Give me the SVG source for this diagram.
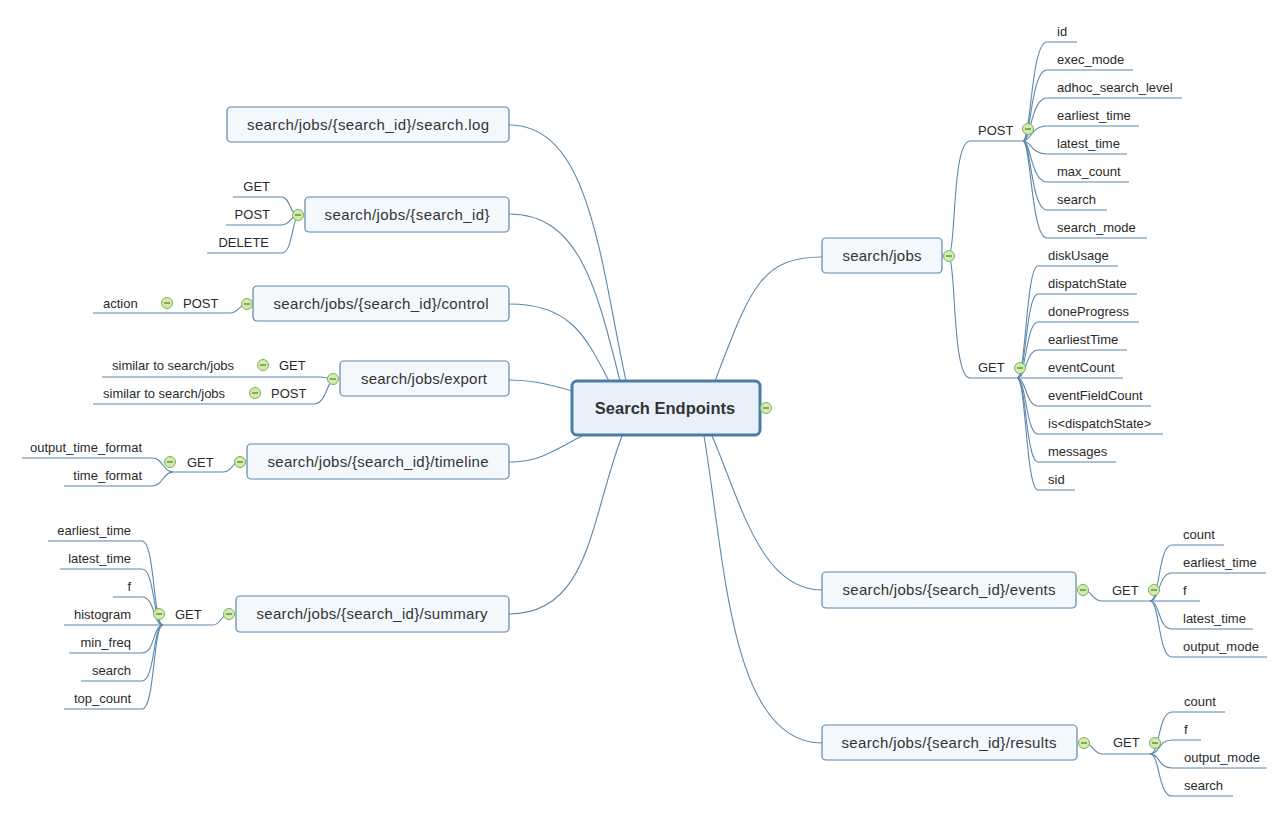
<svg xmlns="http://www.w3.org/2000/svg" width="1288" height="817" viewBox="0 0 1288 817">
<style>
.bg{fill:#fff}
.conn path{fill:none;stroke:#5b88ad;stroke-width:1.1}
.node rect{fill:#f3f8fd;stroke:#5b88ad;stroke-width:1.2}
.center rect{fill:#e8f1fb;stroke:#4a7ca5;stroke-width:3}
text{font-family:"Liberation Sans",Arial,sans-serif;fill:#2a2a2a}
.nt{font-size:15px;text-anchor:middle;fill:#333}
.ct{font-size:16.5px;font-weight:bold;text-anchor:middle;fill:#333}
.lf{font-size:13px}
.le{font-size:13px;text-anchor:end}
.tg circle{fill:#d3ebb3;stroke:#7cb34f;stroke-width:1}
.tg line{stroke:#4d7b2c;stroke-width:1.2}
</style>
<defs>
<g id="tog" class="tg"><circle r="5.5"/><line x1="-3" y1="0" x2="3" y2="0"/></g>
</defs>
<rect class="bg" width="1288" height="817"/>
<g id="connectors" class="conn">
<path d="M626,381 C600,260 590,125 509,125"/>
<path d="M620,381 C597,290 580,214 509,214"/>
<path d="M609,381 C585,335 570,304 509,304"/>
<path d="M572,391 C545,383 530,380 509,380"/>
<path d="M582,436 C555,450 540,462 509,462"/>
<path d="M622,436 C590,520 590,614 509,614"/>
<path d="M715,381 C750,290 760,257 822,257"/>
<path d="M712,436 C740,500 760,590 822,590"/>
<path d="M704,436 C725,560 730,743 822,743"/>
<path d="M949,256 C956,250 952,141 970,141 H1023"/>
<path d="M949,256 C956,262 952,378 970,378 H1017"/>
<path d="M1023,141 C1031,141 1031,42 1047,42 H1077"/>
<path d="M1023,141 C1031,141 1031,70 1047,70 H1133"/>
<path d="M1023,141 C1031,141 1031,98 1047,98 H1182"/>
<path d="M1023,141 C1031,141 1031,126 1047,126 H1139"/>
<path d="M1023,141 C1031,141 1031,154 1047,154 H1127"/>
<path d="M1023,141 C1031,141 1031,182 1047,182 H1129"/>
<path d="M1023,141 C1031,141 1031,210 1047,210 H1107"/>
<path d="M1023,141 C1031,141 1031,238 1047,238 H1147"/>
<path d="M1017,378 C1026,378 1026,266 1038,266 H1118"/>
<path d="M1017,378 C1026,378 1026,294 1038,294 H1137"/>
<path d="M1017,378 C1026,378 1026,322 1038,322 H1139"/>
<path d="M1017,378 C1026,378 1026,350 1038,350 H1127"/>
<path d="M1017,378 H1123"/>
<path d="M1017,378 C1026,378 1026,406 1038,406 H1151"/>
<path d="M1017,378 C1026,378 1026,434 1038,434 H1163"/>
<path d="M1017,378 C1026,378 1026,462 1038,462 H1116"/>
<path d="M1017,378 C1026,378 1026,490 1038,490 H1075"/>
<path d="M1083,590 C1092,590 1092,601 1102,601 H1150"/>
<path d="M1150,601 C1160,601 1158,545 1172,545 H1224"/>
<path d="M1150,601 C1160,601 1158,573 1172,573 H1266"/>
<path d="M1150,601 H1200"/>
<path d="M1150,601 C1160,601 1158,629 1172,629 H1253"/>
<path d="M1150,601 C1160,601 1158,657 1172,657 H1267"/>
<path d="M1084,743 C1093,743 1093,754 1103,754 H1150"/>
<path d="M1150,754 C1160,754 1158,712 1172,712 H1225"/>
<path d="M1150,754 C1160,754 1158,740 1172,740 H1201"/>
<path d="M1150,754 C1160,754 1158,768 1172,768 H1267"/>
<path d="M1150,754 C1160,754 1158,796 1172,796 H1233"/>
<path d="M298,215 C290,215 290,197 282,197 H233"/>
<path d="M298,215 C292,215 290,225 282,225 H226"/>
<path d="M298,215 C292,222 292,253 282,253 H207"/>
<path d="M247,304 C240,304 238,313 230,313 H93"/>
<path d="M333,379 C327,379 326,377 320,377 H102"/>
<path d="M333,379 C326,385 326,404 313,404 H93"/>
<path d="M240,462 C232,462 232,472 223,472 H173"/>
<path d="M173,472 C163,472 163,458 152,458 H22"/>
<path d="M173,472 C163,472 163,486 152,486 H64"/>
<path d="M229,614 C221,614 221,625 213,625 H163"/>
<path d="M163,625 C153,625 155,541 142,541 H48"/>
<path d="M163,625 C153,625 155,569 142,569 H60"/>
<path d="M163,625 C153,625 155,597 142,597 H113"/>
<path d="M163,625 H64"/>
<path d="M163,625 C153,625 155,653 142,653 H69"/>
<path d="M163,625 C153,625 155,681 142,681 H81"/>
<path d="M163,625 C153,625 155,709 142,709 H64"/>
</g>

<g id="center" class="center">
<rect x="572" y="381" width="188" height="54" rx="5"/>
<text class="ct" x="665" y="414">Search Endpoints</text>
<use href="#tog" x="766" y="408"/>
</g>

<g id="n-searchlog" class="node">
<rect x="227" y="107" width="282" height="35" rx="4"/>
<text class="nt" x="368" y="130" textLength="242">search/jobs/{search_id}/search.log</text>
</g>

<g id="n-searchid" class="node">
<rect x="305" y="197" width="204" height="35" rx="4"/>
<text class="nt" x="407" y="220" textLength="165">search/jobs/{search_id}</text>
<use href="#tog" x="298" y="215"/>
<text class="le" x="270" y="191">GET</text>
<text class="le" x="270" y="219">POST</text>
<text class="le" x="269" y="247">DELETE</text>
</g>

<g id="n-control" class="node">
<rect x="253" y="286" width="256" height="35" rx="4"/>
<text class="nt" x="381" y="309" textLength="215">search/jobs/{search_id}/control</text>
<use href="#tog" x="247" y="304"/>
<text class="lf" x="183" y="308">POST</text>
<use href="#tog" x="167" y="303"/>
<text class="lf" x="103" y="308">action</text>
</g>

<g id="n-export" class="node">
<rect x="340" y="361" width="169" height="35" rx="4"/>
<text class="nt" x="424" y="384" textLength="126">search/jobs/export</text>
<use href="#tog" x="333" y="379"/>
<text class="lf" x="279" y="370">GET</text>
<use href="#tog" x="263" y="365"/>
<text class="lf" x="112" y="370">similar to search/jobs</text>
<text class="lf" x="271" y="398">POST</text>
<use href="#tog" x="255" y="393"/>
<text class="lf" x="103" y="398">similar to search/jobs</text>
</g>

<g id="n-timeline" class="node">
<rect x="247" y="444" width="262" height="35" rx="4"/>
<text class="nt" x="378" y="467" textLength="221">search/jobs/{search_id}/timeline</text>
<use href="#tog" x="240" y="462"/>
<text class="lf" x="187" y="467">GET</text>
<use href="#tog" x="170" y="462"/>
<text class="le" x="142" y="452">output_time_format</text>
<text class="le" x="142" y="480">time_format</text>
</g>

<g id="n-summary" class="node">
<rect x="236" y="596" width="273" height="36" rx="4"/>
<text class="nt" x="372" y="619" textLength="231">search/jobs/{search_id}/summary</text>
<use href="#tog" x="229" y="614"/>
<text class="lf" x="175" y="619">GET</text>
<use href="#tog" x="159" y="614"/>
<text class="le" x="131" y="535">earliest_time</text>
<text class="le" x="131" y="563">latest_time</text>
<text class="le" x="131" y="591">f</text>
<text class="le" x="131" y="619">histogram</text>
<text class="le" x="131" y="647">min_freq</text>
<text class="le" x="131" y="675">search</text>
<text class="le" x="131" y="703">top_count</text>
</g>

<g id="n-jobs" class="node">
<rect x="822" y="238" width="120" height="35" rx="4"/>
<text class="nt" x="882" y="261" textLength="79">search/jobs</text>
<use href="#tog" x="949" y="256"/>
<text class="lf" x="978" y="135">POST</text>
<use href="#tog" x="1028" y="129"/>
<text class="lf" x="1057" y="36">id</text>
<text class="lf" x="1057" y="64">exec_mode</text>
<text class="lf" x="1057" y="92">adhoc_search_level</text>
<text class="lf" x="1057" y="120">earliest_time</text>
<text class="lf" x="1057" y="148">latest_time</text>
<text class="lf" x="1057" y="176">max_count</text>
<text class="lf" x="1057" y="204">search</text>
<text class="lf" x="1057" y="232">search_mode</text>
<text class="lf" x="978" y="372">GET</text>
<use href="#tog" x="1020" y="368"/>
<text class="lf" x="1048" y="260">diskUsage</text>
<text class="lf" x="1048" y="288">dispatchState</text>
<text class="lf" x="1048" y="316">doneProgress</text>
<text class="lf" x="1048" y="344">earliestTime</text>
<text class="lf" x="1048" y="372">eventCount</text>
<text class="lf" x="1048" y="400">eventFieldCount</text>
<text class="lf" x="1048" y="428">is&lt;dispatchState&gt;</text>
<text class="lf" x="1048" y="456">messages</text>
<text class="lf" x="1048" y="484">sid</text>
</g>

<g id="n-events" class="node">
<rect x="822" y="572" width="254" height="36" rx="4"/>
<text class="nt" x="949" y="595" textLength="213">search/jobs/{search_id}/events</text>
<use href="#tog" x="1083" y="590"/>
<text class="lf" x="1112" y="595">GET</text>
<use href="#tog" x="1154" y="590"/>
<text class="lf" x="1183" y="539">count</text>
<text class="lf" x="1183" y="567">earliest_time</text>
<text class="lf" x="1183" y="595">f</text>
<text class="lf" x="1183" y="623">latest_time</text>
<text class="lf" x="1183" y="651">output_mode</text>
</g>

<g id="n-results" class="node">
<rect x="822" y="725" width="255" height="35" rx="4"/>
<text class="nt" x="949" y="748" textLength="215">search/jobs/{search_id}/results</text>
<use href="#tog" x="1084" y="743"/>
<text class="lf" x="1113" y="747">GET</text>
<use href="#tog" x="1155" y="743"/>
<text class="lf" x="1184" y="706">count</text>
<text class="lf" x="1184" y="734">f</text>
<text class="lf" x="1184" y="762">output_mode</text>
<text class="lf" x="1184" y="790">search</text>
</g>
</svg>
